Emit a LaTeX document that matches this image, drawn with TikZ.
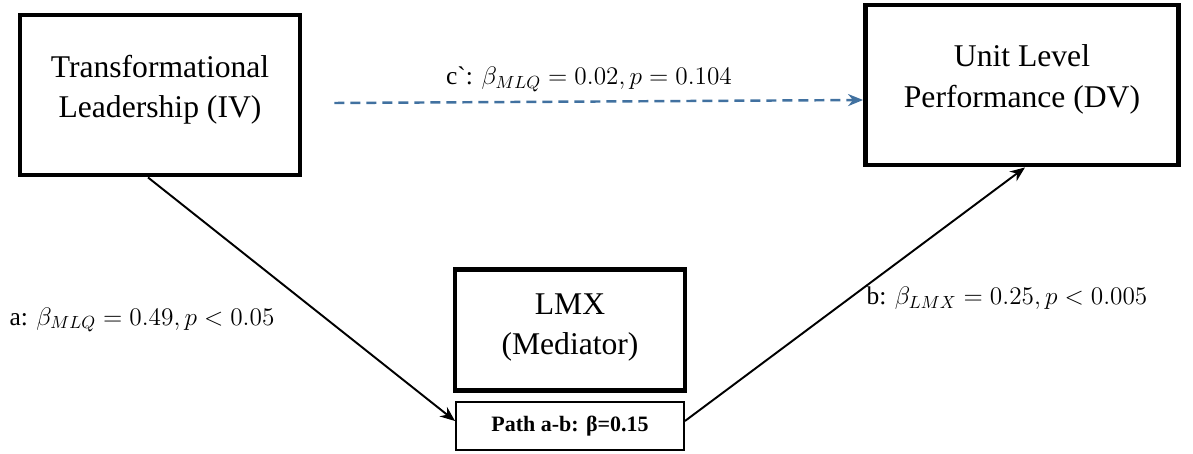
\documentclass[tikz,border=0pt]{standalone}
\usepackage{fontspec}
\setmainfont{LiberationSerif}[Extension=.ttf, UprightFont=*-Regular,
    BoldFont=*-Bold, ItalicFont=*-Italic, BoldItalicFont=*-BoldItalic]
\usetikzlibrary{positioning, calc, arrows.meta}
\definecolor{dashblue}{RGB}{65,113,160}

\begin{document}
\begin{tikzpicture}[x=0.02cm, y=-0.02cm, >={Stealth[length=0.3cm, width=0.24cm]},
    varbox/.style={draw, line width=2.8pt, align=center, inner sep=0pt,
        font=\fontsize{18}{23}\selectfont},
    pathbox/.style={draw, line width=1.1pt, inner sep=0pt,
        minimum width=4.56cm, minimum height=0.96cm,
        font=\fontsize{12.5}{15}\selectfont\bfseries},
    coef/.style={font=\fontsize{14.5}{17}\selectfont}]

    \useasboundingbox (0,0) rectangle (1193,453);

    % ================= Variables =================
    \node[varbox, minimum width=5.6cm, minimum height=3.2cm] (tl) at (160,95)
        {Transformational\\Leadership (IV)\\[-13pt]\mbox{}};
    \node[varbox, minimum width=6.26cm, minimum height=3.2cm] (ulp) at (1022,85)
        {Unit Level\\Performance (DV)\\[-13pt]\mbox{}};
    \node[varbox, minimum width=4.6cm, minimum height=2.42cm] (lmx) at (570,330)
        {LMX\\(Mediator)\\[-16pt]\mbox{}};

    % Indirect effect
    \node[pathbox] (ab) at (570,426) {Path a-b: β=0.15};

    % ================= Paths =================
    \draw[->, line width=1.1pt] ([xshift=-12*0.02cm]tl.south) -- ([yshift=0.1cm]ab.west);
    \draw[->, line width=1.1pt] ([yshift=0.1cm]ab.east) -- ([xshift=3*0.02cm]ulp.south);
    \draw[->, dashblue, line width=1.4pt, dash pattern=on 10*0.02cm off 6*0.02cm]
        ($(tl.east)+(32,8)$) -- ($(ulp.west)+(0,15)$);

    % Coefficients
    \node[coef] (cl) at (589,79) {c\textasciigrave: $\beta_{MLQ} = 0.02, p = 0.104$};
    \node[coef] (al) at (142,320) {a: $\beta_{MLQ} = 0.49, p < 0.05$};
    \node[coef] (bl) at (1007,298) {b: $\beta_{LMX} = 0.25, p < 0.005$};

\end{tikzpicture}
\end{document}
